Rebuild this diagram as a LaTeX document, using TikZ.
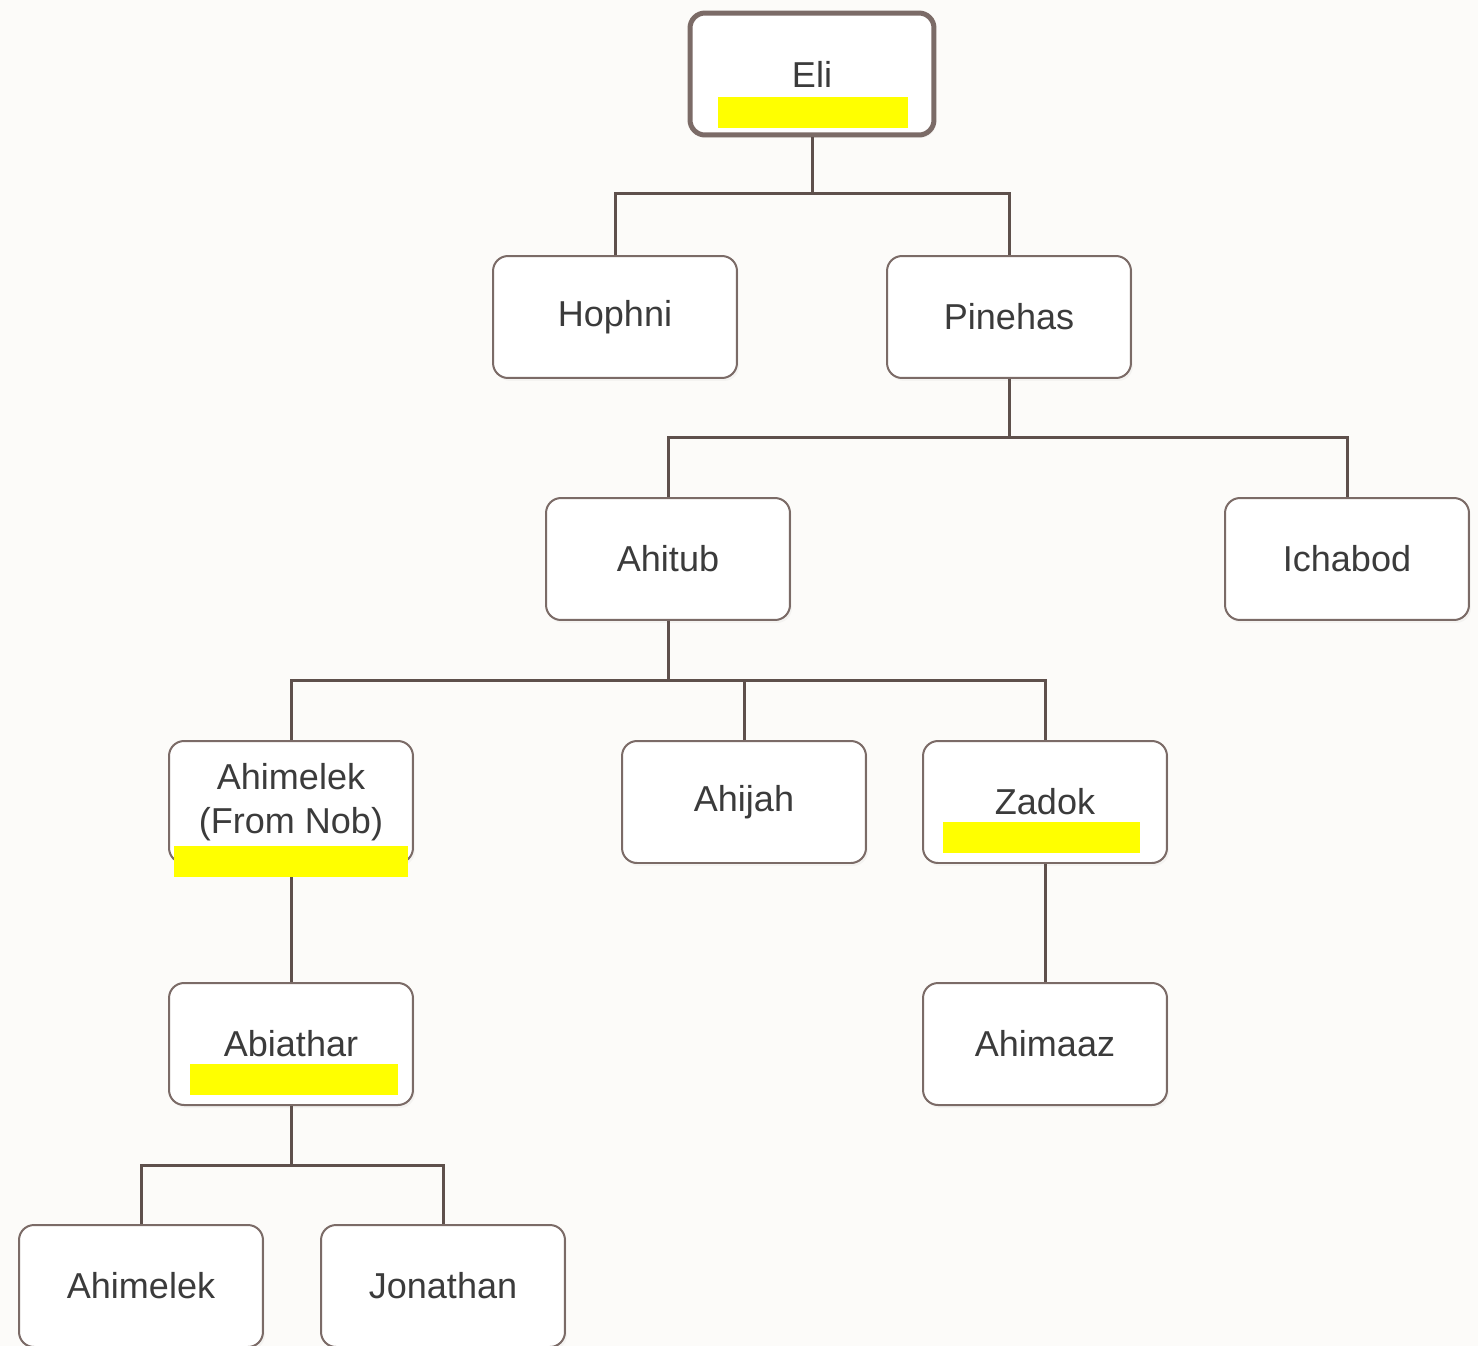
\documentclass[tikz,border=0pt]{standalone}
\usepackage{fontspec}
\setmainfont{Liberation Sans}
\usetikzlibrary{shadows}

\definecolor{paper}{HTML}{FCFBF9}
\definecolor{boxline}{HTML}{7B6B67}
\definecolor{treeline}{HTML}{5E504C}
\definecolor{namecol}{HTML}{3B3B3B}
\definecolor{marker}{HTML}{FFFF00}

\tikzset{
 person/.style={draw=boxline, line width=0.04cm, fill=white, rounded corners=0.3cm,
  minimum width=4.88cm, minimum height=2.44cm, inner sep=0pt, align=center,
  text=namecol, font=\fontsize{20.5}{25}\selectfont,
  drop shadow={opacity=0.06, shadow xshift=0.04cm, shadow yshift=-0.06cm}},
 root/.style={person, line width=0.1cm},
 link/.style={draw=treeline, line width=0.06cm},
}

\begin{document}
\begin{tikzpicture}[x=0.02cm, y=-0.02cm]
 \useasboundingbox (0,0) rectangle (1478,1346);
 \fill[paper] (0,0) rectangle (1478,1346);

 \node[root] (eli) at (812,74) {Eli};

 \node[person] (hophni) at (615,317) {Hophni};
 \node[person] (pinehas) at (1009,317) {Pinehas};

 \node[person] (ahitub) at (668,559) {Ahitub};
 \node[person] (ichabod) at (1347,559) {Ichabod};

 \node[person] (ahimelekn) at (291,802) {Ahimelek\\(From Nob)};
 \node[person] (ahijah) at (744,802) {Ahijah};
 \node[person] (zadok) at (1045,802) {Zadok};

 \node[person] (abiathar) at (291,1044) {Abiathar};
 \node[person] (ahimaaz) at (1045,1044) {Ahimaaz};

 \node[person] (ahimelek) at (141,1286) {Ahimelek};
 \node[person] (jonathan) at (443,1286) {Jonathan};

 \draw[link] (eli.south) -- ++(0,56) -| (hophni.north);
 \draw[link] (eli.south) -- ++(0,56) -| (pinehas.north);

 \draw[link] (pinehas.south) -- ++(0,59) -| (ahitub.north);
 \draw[link] (pinehas.south) -- ++(0,59) -| (ichabod.north);

 \draw[link] (ahitub.south) -- ++(0,60) -| (ahimelekn.north);
 \draw[link] (ahitub.south) -- ++(0,60) -| (ahijah.north);
 \draw[link] (ahitub.south) -- ++(0,60) -| (zadok.north);

 \draw[link] (ahimelekn.south) -- (abiathar.north);
 \draw[link] (zadok.south) -- (ahimaaz.north);

 \draw[link] (abiathar.south) -- ++(0,59) -| (ahimelek.north);
 \draw[link] (abiathar.south) -- ++(0,59) -| (jonathan.north);

 % highlights
 \fill[marker] (718,97) rectangle (908,128);
 \fill[marker] (174,846) rectangle (408,877);
 \fill[marker] (943,822) rectangle (1140,853);
 \fill[marker] (190,1064) rectangle (398,1095);
\end{tikzpicture}
\end{document}
